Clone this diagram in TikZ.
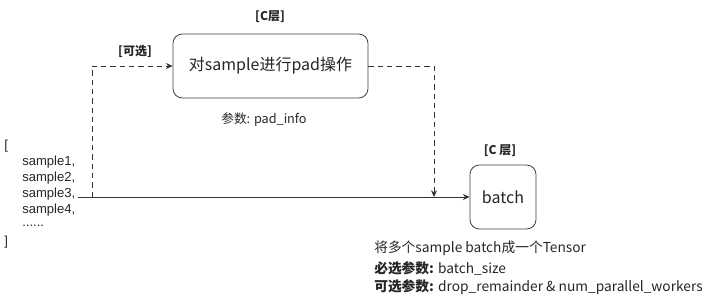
\documentclass[tikz,border=0pt]{standalone}
\usepackage{fontspec}
\setmainfont{Noto Sans CJK SC}
\newfontfamily\listfont{Liberation Sans}
\usepackage{tikz}
\usetikzlibrary{arrows.meta,positioning}

\begin{document}
\begin{tikzpicture}[
  x=0.75pt, y=-0.75pt,
  every node/.style={font=\fontsize{9.5}{11}\selectfont, inner sep=0pt, text=black!85},
  opbox/.style ={draw=black!75, rounded corners=7pt, line width=0.6pt, fill=white,
                 font=\fontsize{12}{14}\selectfont},
  lyr/.style   ={font=\fontsize{9}{11}\selectfont\bfseries},
  lst/.style   ={anchor=west, font=\listfont\fontsize{9.8}{11}\selectfont},
  note/.style  ={anchor=west, font=\fontsize{10.3}{12}\selectfont},
  flow/.style  ={-{Stealth[length=5pt,width=4.5pt]}, draw=black!80, line width=0.6pt},
  opt/.style   ={-{Stealth[length=5pt,width=4.5pt]}, draw=black!80, line width=0.6pt,
                 dash pattern=on 4pt off 3pt},
]
\useasboundingbox (0,0) rectangle (720,302);

%% ─── Operation boxes ─────────────────────────────────────────────────────────
\node[opbox, minimum width=146.25pt, minimum height=48pt] (pad)   at (270.5,66) {对sample进行pad操作};
\node[opbox, minimum width=49.5pt,   minimum height=48pt] (batch) at (503,197)  {batch};

\node[lyr] (padlyr)   at (270,17)  {[C层]};
\node[lyr] (batchlyr) at (500,151) {[C 层]};
\node[lyr] (optlbl)   at (135,51)  {[可选]};
\node      (padarg)   at (264,120) {参数: pad\_info};

%% ─── Input list ──────────────────────────────────────────────────────────────
\node[lst] (lbr) at (4,146) {[};
\foreach \i/\y in {1/162, 2/178, 3/194, 4/210} {
  \node[lst] (s\i) at (22,\y) {sample\i,};
}
\node[lst] (dots) at (22,226) {......};
\node[lst] (rbr)  at (4,242)  {]};

%% ─── Connectors ──────────────────────────────────────────────────────────────
\coordinate (in)    at (78,197);
\coordinate (split) at (92,197);
\coordinate (join)  at (434,197);

\draw[flow] (in) -- (batch.west);
\draw[opt]  (split) |- (pad.west);
\draw[opt]  (pad.east) -| (join);

%% ─── Batch notes ─────────────────────────────────────────────────────────────
\node[note] (bdesc) at (374,248) {将多个sample batch成一个Tensor};
\node[note] (breq)  at (374,268) {\textbf{必选参数:} batch\_size};
\node[note] (bopt)  at (374,287) {\textbf{可选参数:} drop\_remainder \& num\_parallel\_workers};

\end{tikzpicture}
\end{document}
